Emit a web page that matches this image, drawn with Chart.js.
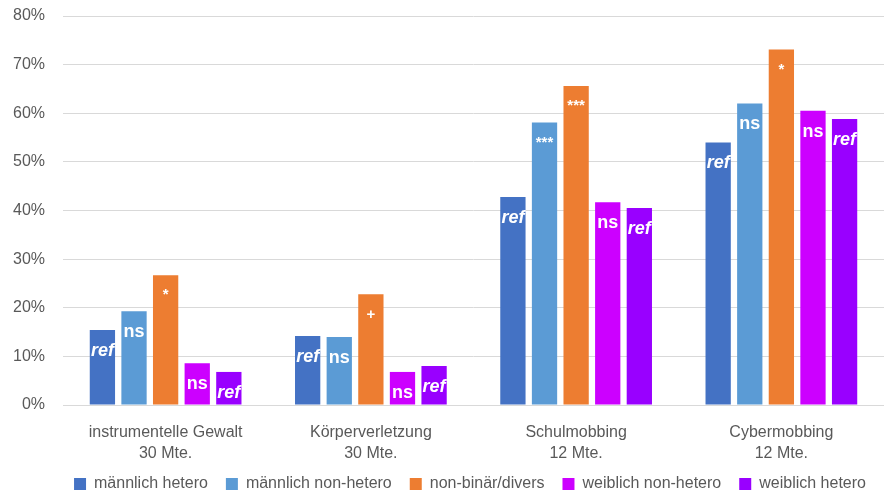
<!DOCTYPE html>
<html>
<head>
<meta charset="utf-8">
<script src="https://cdn.jsdelivr.net/npm/chart.js@4.4.1/dist/chart.umd.min.js"></script>
<style>
  html, body { margin: 0; padding: 0; background: #fff; }
  #wrap { width: 884px; height: 492px; }
</style>
</head>
<body>
<div id="wrap"><canvas id="myChart"></canvas></div>
<script>
const ctx = document.getElementById('myChart');

// Categories (two-line labels)
const categories = [
    ['instrumentelle Gewalt', '30 Mte.'],
    ['Körperverletzung', '30 Mte.'],
    ['Schulmobbing', '12 Mte.'],
    ['Cybermobbing', '12 Mte.']
];

// Percentages
const maennlichHetero    = [15.4, 14.2, 42.8, 54.0];
const maennlichNonHetero = [19.3, 14.0, 58.1, 62.0];
const nonBinaer          = [26.7, 22.8, 65.6, 73.1];
const weiblichNonHetero  = [8.6, 6.8, 41.7, 60.5];
const weiblichHetero     = [6.8, 8.0, 40.5, 58.8];

// Significance marks shown inside the bars
const marksMH  = ['ref', 'ref', 'ref', 'ref'];
const marksMNH = ['ns', 'ns', '***', 'ns'];
const marksNB  = ['*', '+', '***', '*'];
const marksWNH = ['ns', 'ns', 'ns', 'ns'];
const marksWH  = ['ref', 'ref', 'ref', 'ref'];

const yTicks = [0, 10, 20, 30, 40, 50, 60, 70, 80];

const FONT = "'Liberation Sans', Arial, sans-serif";

// draws the little white marks near the top of each bar
const barMarks = {
    id: 'barMarks',
    afterDatasetsDraw(chart) {
        const c = chart.ctx;
        c.save();
        c.fillStyle = '#ffffff';
        c.textAlign = 'center';
        c.textBaseline = 'middle';
        chart.data.datasets.forEach((ds, i) => {
            const meta = chart.getDatasetMeta(i);
            meta.data.forEach((bar, j) => {
                const txt = ds.marks[j];
                if (!txt) return;
                if (txt === 'ref') c.font = 'italic bold 18px ' + FONT;
                else if (txt === 'ns') c.font = 'bold 18px ' + FONT;
                else c.font = 'bold 15px ' + FONT;
                const dy = (txt.indexOf('*') >= 0) ? 20 : 21;
                c.fillText(txt, bar.x, bar.y + dy);
            });
        });
        c.restore();
    }
};

// legend a bit shorter and nudged right (centred under the plot);
// x labels may run into the legend box without being clipped
const legendFit = {
    id: 'legendFit',
    beforeInit(chart) {
        const orig = chart.legend.fit;
        chart.legend.fit = function () {
            orig.call(this);
            this.height -= 10;
        };
    },
    afterLayout(chart) {
        const lg = chart.legend;
        lg.left += 24;
        lg.right += 24;
        chart.scales.x.bottom = chart.height;
    }
};

function ds(label, data, color, marks) {
    return {
        label: label,
        data: data,
        backgroundColor: color,
        borderWidth: 0,
        marks: marks,
        categoryPercentage: 0.77,
        barPercentage: 0.8
    };
}

new Chart(ctx, {
    type: 'bar',
    data: {
        labels: categories,
        datasets: [
            ds('männlich hetero', maennlichHetero, '#4472C4', marksMH),
            ds('männlich non-hetero', maennlichNonHetero, '#5B9BD5', marksMNH),
            ds('non-binär/divers', nonBinaer, '#ED7D31', marksNB),
            ds('weiblich non-hetero', weiblichNonHetero, '#CC00FF', marksWNH),
            ds('weiblich hetero', weiblichHetero, '#9900FF', marksWH)
        ]
    },
    options: {
        responsive: true,
        maintainAspectRatio: false,
        animation: false,
        layout: { padding: { left: 8, right: 0, top: 16, bottom: 0 } },
        scales: {
            x: {
                grid: { display: false, drawTicks: false },
                border: { color: '#D9D9D9' },
                ticks: { color: '#595959', font: { family: FONT, size: 16, lineHeight: 1.3 }, padding: 17 },
                afterFit: axis => { axis.height = 53; }
            },
            y: {
                min: 0,
                max: 80,
                afterBuildTicks: axis => { axis.ticks = yTicks.map(v => ({ value: v })); },
                afterFit: axis => { axis.width = 55; axis.paddingTop = 0; },
                grid: { color: '#D9D9D9', drawTicks: false },
                border: { display: false },
                ticks: {
                    color: '#595959',
                    font: { family: FONT, size: 16 },
                    padding: 18,
                    callback: v => v + '%'
                }
            }
        },
        plugins: {
            legend: {
                position: 'bottom',
                labels: {
                    color: '#595959',
                    font: { family: FONT, size: 16 },
                    boxWidth: 12,
                    boxHeight: 12,
                    padding: 18
                }
            },
            tooltip: { enabled: false }
        }
    },
    plugins: [barMarks, legendFit]
});
</script>
</body>
</html>
